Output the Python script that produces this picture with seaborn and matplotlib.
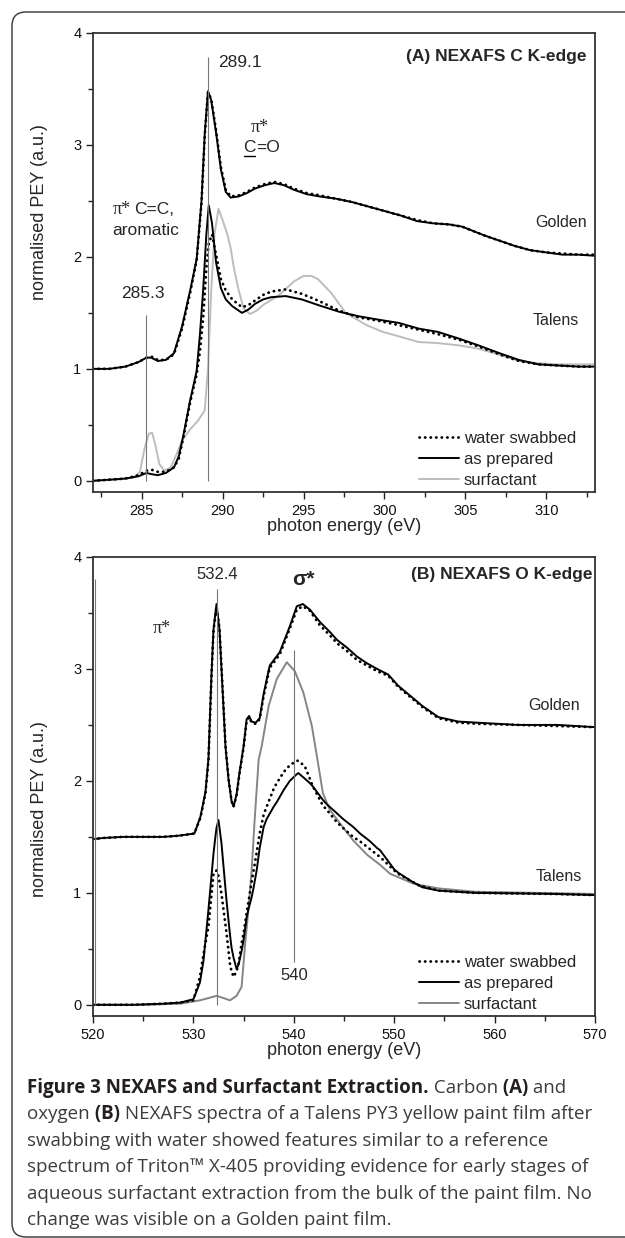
import pandas as pd
import matplotlib
matplotlib.use('Agg')
import matplotlib.pyplot as plt
import matplotlib.patches as mpatches
import matplotlib.transforms as mtransforms
from matplotlib.lines import Line2D
from matplotlib.ticker import MultipleLocator
import seaborn as sns

# ---------------- (A) carbon K-edge ----------------
golden_c_x = [282.0, 283.0, 284.0, 284.8, 285.3, 285.6, 286.0, 286.5, 287.0, 287.5, 288.0, 288.4, 288.7, 288.9,
              289.1, 289.3, 289.6, 289.9, 290.2, 290.5, 291.0, 291.5, 292.0, 292.6, 293.2, 293.8, 294.4, 295.2,
              296.0, 297.0, 298.0, 299.0, 300.0, 301.0, 302.0, 303.0, 304.0, 304.8, 305.5, 306.2, 307.0, 308.0,
              309.0, 310.0, 311.0, 312.0, 313.0]
golden_c_prep = [1.00, 1.00, 1.02, 1.06, 1.10, 1.10, 1.07, 1.08, 1.14, 1.38, 1.70, 1.98, 2.50, 3.10,
                 3.48, 3.40, 3.11, 2.78, 2.58, 2.53, 2.54, 2.57, 2.61, 2.64, 2.66, 2.64, 2.60, 2.56,
                 2.54, 2.52, 2.49, 2.45, 2.41, 2.37, 2.32, 2.30, 2.29, 2.27, 2.23, 2.19, 2.15, 2.10,
                 2.06, 2.04, 2.02, 2.02, 2.01]
golden_c_swab = [1.00, 1.00, 1.02, 1.06, 1.10, 1.11, 1.08, 1.08, 1.13, 1.36, 1.68, 1.97, 2.48, 3.08,
                 3.47, 3.41, 3.13, 2.80, 2.60, 2.54, 2.55, 2.58, 2.62, 2.65, 2.67, 2.65, 2.61, 2.57,
                 2.55, 2.52, 2.49, 2.45, 2.41, 2.37, 2.33, 2.30, 2.29, 2.27, 2.23, 2.19, 2.15, 2.10,
                 2.06, 2.04, 2.03, 2.02, 2.02]

talens_c_x = [282.0, 283.0, 284.0, 284.8, 285.3, 285.6, 286.0, 286.5, 287.0, 287.3, 287.6, 288.0, 288.4, 288.6,
              288.8, 289.0, 289.15, 289.35, 289.6, 289.9, 290.2, 290.6, 291.2, 291.6, 292.0, 292.5, 293.0, 293.9,
              294.9, 295.9, 297.2, 298.4, 299.6, 300.9, 302.1, 303.3, 304.6, 305.8, 307.1, 308.3, 309.5, 310.7,
              312.0, 313.0]
talens_c_prep = [0.00, 0.01, 0.02, 0.04, 0.07, 0.06, 0.05, 0.07, 0.12, 0.22, 0.42, 0.72, 0.98, 1.30,
                 1.70, 2.20, 2.46, 2.30, 1.95, 1.72, 1.62, 1.56, 1.50, 1.53, 1.58, 1.62, 1.64, 1.65,
                 1.62, 1.57, 1.51, 1.47, 1.44, 1.41, 1.36, 1.33, 1.27, 1.21, 1.14, 1.08, 1.04, 1.03,
                 1.02, 1.02]
talens_c_swab = [0.00, 0.01, 0.02, 0.05, 0.09, 0.10, 0.08, 0.08, 0.12, 0.20, 0.40, 0.70, 0.95, 1.15,
                 1.45, 1.90, 2.12, 2.20, 2.02, 1.80, 1.70, 1.62, 1.55, 1.57, 1.61, 1.66, 1.69, 1.71,
                 1.67, 1.61, 1.52, 1.46, 1.43, 1.39, 1.35, 1.31, 1.26, 1.20, 1.13, 1.07, 1.04, 1.03,
                 1.02, 1.02]

surf_c_x = [282.0, 283.5, 284.5, 284.9, 285.2, 285.45, 285.65, 285.85, 286.1, 286.4, 286.8, 287.2, 287.5, 288.0,
            288.5, 288.9, 289.1, 289.3, 289.5, 289.75, 290.0, 290.3, 290.5, 290.7, 291.0, 291.3, 291.7, 292.1,
            292.5, 293.5, 294.4, 295.0, 295.5, 295.9, 296.7, 297.6, 298.9, 299.9, 300.9, 302.1, 303.3, 304.6,
            305.8, 307.0, 308.3, 309.5, 310.7, 313.0]
surf_c_y = [0.00, 0.01, 0.03, 0.08, 0.30, 0.42, 0.43, 0.32, 0.15, 0.09, 0.12, 0.25, 0.36, 0.46,
            0.54, 0.63, 1.00, 1.70, 2.20, 2.43, 2.33, 2.20, 2.08, 1.90, 1.70, 1.54, 1.49, 1.52,
            1.57, 1.66, 1.78, 1.83, 1.83, 1.80, 1.68, 1.50, 1.39, 1.33, 1.29, 1.24, 1.23, 1.21,
            1.18, 1.13, 1.07, 1.05, 1.04, 1.04]

# ---------------- (B) oxygen K-edge ----------------
golden_o_x = [520.0, 521.0, 523.0, 525.0, 527.0, 528.5, 529.3, 530.1, 530.7, 531.2, 531.5, 531.8, 532.0, 532.3,
              532.6, 532.9, 533.2, 533.5, 533.8, 534.0, 534.3, 534.6, 535.0, 535.3, 535.55, 535.8, 536.2, 536.6,
              537.0, 537.6, 538.6, 539.6, 540.3, 540.9, 541.6, 542.6, 543.6, 544.3, 545.3, 546.3, 547.3, 548.3,
              549.4, 550.4, 551.6, 552.8, 554.4, 556.4, 558.3, 562.3, 566.3, 570.0]
golden_o_prep = [1.48, 1.49, 1.50, 1.50, 1.50, 1.51, 1.52, 1.53, 1.68, 1.90, 2.20, 2.95, 3.35, 3.58,
                 3.35, 2.82, 2.30, 2.01, 1.82, 1.77, 1.88, 2.08, 2.31, 2.55, 2.58, 2.53, 2.52, 2.56,
                 2.78, 3.03, 3.15, 3.38, 3.56, 3.58, 3.53, 3.42, 3.33, 3.26, 3.19, 3.11, 3.05, 3.00,
                 2.95, 2.85, 2.76, 2.67, 2.57, 2.53, 2.52, 2.50, 2.50, 2.48]
golden_o_swab = [1.48, 1.49, 1.50, 1.50, 1.50, 1.51, 1.52, 1.53, 1.67, 1.89, 2.18, 2.93, 3.34, 3.56,
                 3.36, 2.84, 2.31, 2.02, 1.82, 1.77, 1.87, 2.07, 2.30, 2.53, 2.57, 2.52, 2.51, 2.55,
                 2.76, 3.01, 3.13, 3.36, 3.53, 3.56, 3.52, 3.39, 3.30, 3.23, 3.16, 3.08, 3.03, 2.98,
                 2.94, 2.84, 2.75, 2.66, 2.56, 2.52, 2.51, 2.50, 2.49, 2.48]

talens_o_x = [520.0, 524.0, 527.0, 528.7, 530.0, 530.65, 531.0, 531.5, 531.65, 532.0, 532.15, 532.3, 532.5, 532.8,
              533.3, 533.65, 533.8, 534.0, 534.3, 534.5, 534.8, 535.0, 535.3, 535.5, 535.8, 536.0, 536.3, 536.6,
              537.0, 537.3, 538.0, 538.3, 539.0, 539.6, 540.3, 540.45, 541.1, 541.6, 541.9, 542.9, 543.3, 544.3,
              544.9, 545.9, 546.6, 547.6, 548.3, 548.6, 550.0, 550.4, 551.6, 552.4, 552.8, 554.4, 558.0, 566.0,
              570.0]
talens_o_prep = [0.00, 0.00, 0.01, 0.02, 0.05, 0.20, 0.39, 0.85, 1.00, 1.35, 1.47, 1.58, 1.65, 1.44,
                 0.93, 0.62, 0.51, 0.42, 0.32, 0.36, 0.48, 0.58, 0.78, 0.86, 0.96, 1.05, 1.20, 1.40,
                 1.59, 1.66, 1.77, 1.81, 1.92, 2.00, 2.06, 2.07, 2.02, 1.98, 1.95, 1.83, 1.79, 1.71,
                 1.66, 1.59, 1.53, 1.46, 1.40, 1.38, 1.21, 1.18, 1.11, 1.07, 1.05, 1.02, 1.00, 0.99,
                 0.98]
talens_o_swab = [0.00, 0.00, 0.01, 0.02, 0.04, 0.25, 0.45, 0.70, 0.84, 1.17, 1.19, 1.20, 1.15, 0.99,
                 0.64, 0.36, 0.30, 0.25, 0.30, 0.37, 0.55, 0.64, 0.82, 0.93, 1.10, 1.20, 1.36, 1.53,
                 1.70, 1.77, 1.93, 1.98, 2.08, 2.14, 2.18, 2.18, 2.13, 2.02, 1.95, 1.78, 1.74, 1.63,
                 1.58, 1.50, 1.46, 1.39, 1.34, 1.32, 1.20, 1.17, 1.11, 1.07, 1.06, 1.02, 1.00, 0.99,
                 0.98]

surf_o_x = [520.0, 525.0, 528.7, 530.65, 531.5, 532.3, 533.0, 533.65, 534.3, 534.8, 535.15, 535.5, 535.8, 536.1,
            536.5, 536.8, 537.5, 538.3, 539.3, 540.1, 540.95, 541.8, 542.3, 542.9, 543.6, 544.6, 545.9, 547.3,
            548.6, 549.6, 552.0, 554.4, 558.0, 564.0, 570.0]
surf_o_y = [0.00, 0.00, 0.01, 0.04, 0.06, 0.08, 0.06, 0.04, 0.08, 0.16, 0.54, 0.87, 1.20, 1.65,
            2.19, 2.31, 2.67, 2.91, 3.06, 2.98, 2.79, 2.49, 2.22, 1.89, 1.74, 1.62, 1.47, 1.34,
            1.25, 1.17, 1.08, 1.04, 1.01, 1.00, 0.99]

legend_labels = ['water swabbed', 'as prepared', 'surfactant']
caption_lines = [
    [('Figure 3 NEXAFS and Surfactant Extraction.', 'bold'), (' Carbon', 'normal'), (' (A)', 'bold'), (' and', 'normal')],
    [('oxygen', 'normal'), (' (B)', 'bold'), (' NEXAFS spectra of a Talens PY3 yellow paint film after', 'normal')],
    [('swabbing with water showed features similar to a reference', 'normal')],
    [('spectrum of Triton\u2122 X-405 providing evidence for early stages of', 'normal')],
    [('aqueous surfactant extraction from the bulk of the paint film. No', 'normal')],
    [('change was visible on a Golden paint film.', 'normal')],
]

sns.set_style('ticks')
plt.rcParams['font.family'] = ['Liberation Sans', 'DejaVu Sans']

W, H = 625, 1238
fig = plt.figure(figsize=(W / 100, H / 100), dpi=100)
axA = fig.add_axes([93 / W, 1 - 492 / H, 502 / W, 459 / H])
axB = fig.add_axes([93 / W, 1 - 1016 / H, 502 / W, 459 / H])

SOLID = dict(color='black', lw=1.4)
DOT = dict(color='black', lw=2.0, linestyle=(0, (0.1, 1.9)), dash_capstyle='round')


def draw(ax, x, y, **style):
    df = pd.DataFrame({'x': x, 'y': y})
    sns.lineplot(data=df, x='x', y='y', ax=ax, estimator=None, sort=False, **style)


# panel A
draw(axA, surf_c_x, surf_c_y, color='#bdbdbd', lw=1.4)
draw(axA, golden_c_x, golden_c_prep, **SOLID)
draw(axA, golden_c_x, golden_c_swab, **DOT)
draw(axA, talens_c_x, talens_c_prep, **SOLID)
draw(axA, talens_c_x, talens_c_swab, **DOT)
axA.vlines([289.1], 0, 3.79, color='#777777', lw=0.8)
axA.vlines([285.3], 0, 1.48, color='#777777', lw=0.8)

# panel B
draw(axB, surf_o_x, surf_o_y, color='#858585', lw=1.4)
draw(axB, golden_o_x, golden_o_prep, **SOLID)
draw(axB, golden_o_x, golden_o_swab, **DOT)
draw(axB, talens_o_x, talens_o_prep, **SOLID)
draw(axB, talens_o_x, talens_o_swab, **DOT)
axB.vlines([532.4], 0, 3.71, color='#777777', lw=0.8)
axB.vlines([540.0], 0.38, 3.17, color='#777777', lw=0.8)
axB.vlines([520.2], 0, 3.80, color='#777777', lw=0.8)

for ax, xlim, xmaj, xmin, surf_col in [(axA, (282, 313), 5, 2.5, '#bdbdbd'), (axB, (520, 570), 10, 5, '#858585')]:
    ax.set_xlim(*xlim)
    ax.set_ylim(-0.1, 4.0)
    ax.xaxis.set_major_locator(MultipleLocator(xmaj))
    ax.xaxis.set_minor_locator(MultipleLocator(xmin))
    ax.yaxis.set_major_locator(MultipleLocator(1))
    ax.yaxis.set_minor_locator(MultipleLocator(0.5))
    ax.tick_params(which='major', direction='out', length=4.8, width=1.0, labelsize=10.5, pad=3.5,
                   color='#222222', labelcolor='#111111')
    ax.tick_params(which='minor', direction='out', length=3.6, width=1.0, color='#222222')
    for sp in ax.spines.values():
        sp.set_linewidth(1.3)
        sp.set_color('#333333')
    ax.set_xlabel('photon energy (eV)', fontsize=13)
    ax.set_ylabel('normalised PEY (a.u.)', fontsize=13)
    ax.xaxis.set_label_coords(0.5, -0.057)
    handles = [Line2D([], [], **DOT), Line2D([], [], **SOLID), Line2D([], [], color=surf_col, lw=1.4)]
    ax.legend(handles, legend_labels, loc='lower right', frameon=False, fontsize=12,
              handlelength=2.4, handletextpad=0.3, labelspacing=0.35, borderaxespad=0.0,
              bbox_to_anchor=(0.975, -0.005))

axA.yaxis.set_label_coords(-0.09, 0.61)
axB.yaxis.set_label_coords(-0.09, 0.45)

# annotations A
axA.text(289.75, 3.74, '289.1', fontsize=12.5, va='center', ha='left')
axA.text(312.45, 3.79, '(A) NEXAFS C K-edge', fontsize=12.5, fontweight='bold', ha='right', va='center')
axA.text(292.3, 3.16, '\u03c0*', fontsize=13, family='Liberation Serif', ha='center', va='center')
cC = axA.text(292.05, 2.98, 'C', fontsize=12.5, ha='right', va='center')
axA.text(292.05, 2.98, '=O', fontsize=12.5, ha='left', va='center')
axA.text(283.2, 2.42, '\u03c0*', fontsize=13, family='Liberation Serif', ha='left', va='center')
axA.text(284.55, 2.42, 'C=C,', fontsize=12.5, ha='left', va='center')
axA.text(283.2, 2.24, 'aromatic', fontsize=12.5, ha='left', va='center')
axA.text(285.1, 1.67, '285.3', fontsize=12.5, ha='center', va='center')
axA.text(312.5, 2.31, 'Golden', fontsize=11.5, ha='right', va='center')
axA.text(312.0, 1.43, 'Talens', fontsize=11.5, ha='right', va='center')

# annotations B
axB.text(532.4, 3.84, '532.4', fontsize=12, ha='center', va='center')
axB.text(541.0, 3.80, '\u03c3*', fontsize=15, fontweight='bold', ha='center', va='center')
axB.text(569.8, 3.84, '(B) NEXAFS O K-edge', fontsize=12.5, fontweight='bold', ha='right', va='center')
axB.text(526.8, 3.36, '\u03c0*', fontsize=13, family='Liberation Serif', ha='center', va='center')
axB.text(568.5, 2.67, 'Golden', fontsize=11.5, ha='right', va='center')
axB.text(568.7, 1.15, 'Talens', fontsize=11.5, ha='right', va='center')
axB.text(540.0, 0.26, '540', fontsize=12, ha='center', va='center')

fig.canvas.draw()
renderer = fig.canvas.get_renderer()

# underline the C of C=O
bb = cC.get_window_extent(renderer)
inv = axA.transData.inverted()
(x0, y0), (x1, _) = inv.transform([(bb.x0 + 1, bb.y0 - 1), (bb.x1 - 1, bb.y0 - 1)])
axA.plot([x0, x1], [y0, y0], color='black', lw=1.0)

# caption
cap_size = 13.5
y_img = 1088
for runs in caption_lines:
    x = 27
    for txt, weight in runs:
        t = fig.text(x / W, 1 - y_img / H, txt, fontsize=cap_size, fontweight=weight,
                     family=['Open Sans', 'DejaVu Sans'], va='center', ha='left',
                     color='#231f20' if weight == 'bold' else '#3c3c3c')
        x += t.get_window_extent(renderer).width
    y_img += 26.4

# rounded frame
frame = mpatches.FancyBboxPatch((12, 1), 700, 1225, boxstyle='round,pad=0,rounding_size=14',
                                transform=mtransforms.IdentityTransform(), fill=False,
                                edgecolor='#444444', lw=1.1)
fig.patches.append(frame)

fig.savefig('out.png', dpi=100)
